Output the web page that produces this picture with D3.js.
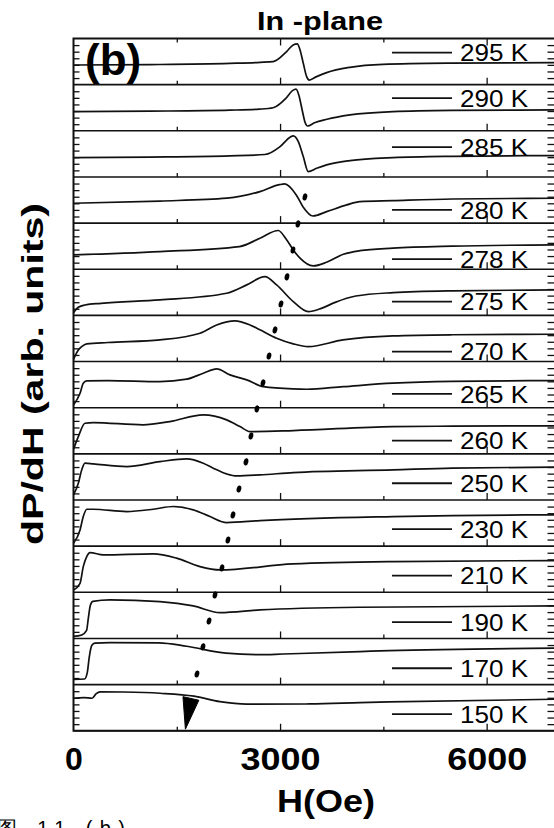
<!DOCTYPE html>
<html>
<head>
<meta charset="utf-8">
<script src="https://cdn.jsdelivr.net/npm/d3@7/dist/d3.min.js"></script>
<style>
  html, body { margin: 0; padding: 0; background: #fff; }
  svg { display: block; }
  text { font-family: "Liberation Sans", Arial, Helvetica, sans-serif; fill: #000; }
</style>
</head>
<body>
<svg id="chart" width="554" height="828"></svg>
<script>
// ---- data -------------------------------------------------------------
// Temperature of each stacked spectrum, top to bottom.
const temperatures = ["295 K", "290 K", "285 K", "280 K", "278 K", "275 K", "270 K",
                      "265 K", "260 K", "250 K", "230 K", "210 K", "190 K", "170 K", "150 K"];

// Field axis ticks (Oe).
const fieldTicks = [0, 3000, 6000];
const fieldMinorTicks = [1500, 4500];

// dP/dH spectra: [H (Oe), signal (arb. units, 0 = bottom of the trace's strip)].
const s295 = [[0, 19.6], [1110, 20.0], [2270, 21.2], [2710, 22.2], [2900, 23.0], [3095, 33.0],
              [3190, 39.6], [3250, 40.6], [3290, 34.6], [3337, 21.3], [3386, 8.0], [3424, 4.6],
              [3530, 8.0], [3676, 12.0], [4015, 17.3], [4494, 20.3], [5467, 21.5], [7000, 22.0]];
const s290 = [[0, 19.1], [1110, 19.6], [2270, 20.6], [2700, 21.6], [2900, 23.0], [3080, 32.0],
              [3180, 40.0], [3231, 41.5], [3275, 35.0], [3320, 21.0], [3365, 8.0], [3400, 4.8],
              [3500, 8.0], [3680, 11.5], [4015, 15.8], [4640, 19.1], [5500, 20.3], [7000, 20.8]];
const s285 = [[0, 19.3], [1110, 19.8], [2270, 21.0], [2780, 22.4], [3000, 30.3], [3145, 39.6],
              [3192, 41.0], [3265, 35.3], [3337, 20.3], [3409, 5.3], [3531, 8.6], [3676, 12.0],
              [4015, 16.3], [4640, 19.3], [5500, 20.6], [7000, 21.3]];
const s280 = [[0, 19.8], [1256, 22.0], [2229, 24.8], [2708, 31.4], [2990, 38.3], [3067, 39.1],
              [3235, 28.1], [3332, 16.4], [3477, 7.1], [3676, 11.4], [3967, 18.1], [4160, 21.4],
              [4640, 22.4], [5500, 24.0], [7000, 24.8]];
const s278 = [[0, 14.3], [1256, 17.6], [2410, 22.6], [2708, 30.9], [2974, 38.6], [3095, 29.3],
              [3192, 19.3], [3290, 11.0], [3480, 3.3], [3676, 7.0], [3920, 15.0], [4160, 18.5],
              [4640, 21.0], [5500, 23.0], [7000, 24.3]];
const s275 = [[0, 2.7], [70, 8.1], [167, 10.4], [400, 12.0], [1256, 15.4], [2224, 22.1],
              [2515, 30.4], [2781, 38.7], [2950, 30.4], [3192, 13.7], [3409, 3.7], [3600, 7.0],
              [3800, 13.0], [4100, 19.3], [4644, 22.7], [5500, 24.5], [7000, 25.4]];
const s270 = [[0, 2.2], [70, 11.5], [119, 14.9], [192, 17.6], [500, 19.0], [1256, 21.6],
              [1837, 28.2], [2079, 36.5], [2345, 40.6], [2563, 36.5], [2708, 31.6], [2950, 23.2],
              [3192, 17.6], [3409, 14.9], [3913, 21.6], [4639, 25.6], [5500, 26.7], [7000, 27.2]];
const s265 = [[0, 2.7], [95, 14.4], [142, 24.4], [192, 26.7], [500, 27.0], [1256, 26.0],
              [1644, 28.4], [1885, 34.4], [2079, 38.7], [2273, 32.7], [2515, 27.7], [2757, 21.0],
              [3192, 18.7], [3386, 18.4], [3918, 21.0], [4639, 24.4], [5500, 26.2], [7000, 27.0]];
const s260 = [[0, 4.5], [70, 17.2], [167, 30.5], [287, 31.2], [1009, 28.9], [1400, 32.2],
              [1885, 38.9], [2224, 33.9], [2418, 27.2], [2563, 22.2], [3192, 23.2], [4639, 27.2],
              [5500, 27.6], [7000, 27.9]];
const s250 = [[0, 5.0], [70, 16.7], [119, 30.0], [167, 36.7], [287, 36.0], [772, 33.3],
              [1256, 38.3], [1644, 41.0], [1885, 36.7], [2030, 31.7], [2224, 26.0], [2370, 24.0],
              [2708, 25.0], [3192, 27.3], [4639, 30.0], [5500, 31.8], [7000, 32.7]];
const s230 = [[0, 2.8], [95, 16.2], [142, 29.5], [192, 36.8], [287, 36.8], [772, 34.5],
              [1159, 36.8], [1449, 39.5], [1740, 36.2], [1982, 29.5], [2224, 23.5], [2708, 25.5],
              [4639, 29.5], [5500, 30.5], [7000, 31.2]];
const s210 = [[0, 2.3], [95, 9.0], [142, 25.6], [192, 35.6], [240, 39.6], [433, 37.3],
              [1159, 38.3], [1498, 34.0], [1837, 25.6], [2127, 22.3], [3187, 28.3], [4639, 30.6],
              [7000, 31.6]];
const s190 = [[0, 2.0], [120, 3.5], [190, 8.0], [215, 20.0], [245, 33.0], [280, 37.0],
              [530, 38.5], [1256, 36.7], [1739, 32.4], [2127, 25.7], [2708, 28.4], [4160, 31.1],
              [7000, 32.4]];
const s170 = [[0, 5.3], [160, 5.6], [200, 12.0], [230, 28.0], [265, 39.0], [310, 41.3],
              [530, 41.9], [1241, 41.6], [1644, 38.2], [2214, 31.3], [2708, 29.8], [3042, 30.5],
              [4160, 32.9], [4581, 33.9], [7000, 36.3]];
const s150 = [[0, 32.4], [150, 33.0], [270, 32.4], [330, 37.0], [385, 38.8], [733, 38.6],
              [1256, 37.4], [1750, 34.5], [2127, 29.0], [2519, 26.6], [3434, 26.7], [4160, 28.0],
              [4581, 28.7], [7000, 31.4]];

const spectra = [s295, s290, s285, s280, s278, s275, s270,
                 s265, s260, s250, s230, s210, s190, s170, s150];

// Resonance-field guide marks: [H (Oe), trace, signal level].
const guideDots = [[3361, "280 K", 26.1], [3260, "278 K", 45.2], [3187, "278 K", 19.2],
                   [3100, "275 K", 38.4], [3013, "275 K", 11.4], [2926, "270 K", 31.5],
                   [2839, "270 K", 5.5], [2752, "265 K", 24.7], [2664, "260 K", 44.8],
                   [2577, "260 K", 17.8], [2505, "250 K", 38.0], [2403, "250 K", 11.0],
                   [2316, "230 K", 31.1], [2243, "230 K", 6.1], [2156, "210 K", 24.3],
                   [2055, "190 K", 43.4], [1968, "190 K", 17.4], [1880, "170 K", 37.6],
                   [1793, "170 K", 10.6]];

// Arrow head at the end of the guide, in the 150 K strip: [H (Oe), level].
const arrowHead = [[1590, 34.0], [1820, 30.4], [1625, 1.6]];

// ---- layout -----------------------------------------------------------
const plot = { left: 73.5, right: 555.5, top: 38.5, bottom: 730.75 };
const stripMax = 46;                                   // signal span of one strip
const legendLevel = [32, 32.5, 29.7, 13.2, 10, 13.8, 9.9, 13.7, 13.2, 16.7, 16.9, 16.7, 16.2, 16.3, 16.5];

const svg = d3.select("#chart");

const x = d3.scaleLinear().domain([0, 7000]).range([plot.left, plot.right]);
const strip = d3.scaleBand().domain(temperatures).range([plot.top, plot.bottom]).padding(0);
const bw = strip.bandwidth();
const yOf = t => d3.scaleLinear().domain([0, stripMax]).range([strip(t) + bw, strip(t)]);

const ink = "#111";

// strips, their axes and traces
temperatures.forEach((t, i) => {
  const y = yOf(t);
  const g = svg.append("g");

  // bottom edge of the strip with inward ticks
  g.append("line")
    .attr("x1", plot.left).attr("x2", plot.right)
    .attr("y1", strip(t) + bw).attr("y2", strip(t) + bw)
    .attr("stroke", ink).attr("stroke-width", 1.6);

  const axMajor = d3.axisBottom(x).tickValues([3000, 6000]).tickSize(-7).tickFormat("");
  const axMinor = d3.axisBottom(x).tickValues(fieldMinorTicks).tickSize(-4).tickFormat("");
  [axMajor, axMinor].forEach(ax => {
    const a = g.append("g").attr("transform", `translate(0,${strip(t) + bw})`).call(ax);
    a.select(".domain").remove();
    a.selectAll("line").attr("stroke", ink).attr("stroke-width", 1.3);
  });

  // y minor ticks on both sides
  const levels = d3.range(1, 7).map(k => k * stripMax / 7);
  const yl = g.append("g").attr("transform", `translate(${plot.left},0)`)
    .call(d3.axisLeft(y).tickValues(levels).tickSize(-6).tickFormat(""));
  const yr = g.append("g").attr("transform", `translate(${plot.right},0)`)
    .call(d3.axisRight(y).tickValues(levels).tickSize(-8).tickFormat(""));
  [yl, yr].forEach(a => {
    a.select(".domain").remove();
    a.selectAll("line").attr("stroke", ink).attr("stroke-width", 1.3);
  });

  // trace
  g.append("path")
    .datum(spectra[i])
    .attr("fill", "none")
    .attr("stroke", ink)
    .attr("stroke-width", 1.7)
    .attr("stroke-linejoin", "round")
    .attr("d", d3.line().x(d => x(d[0])).y(d => y(d[1])).curve(d3.curveMonotoneX));

  // legend entry
  const ly = y(legendLevel[i]);
  g.append("line")
    .attr("x1", 392).attr("x2", 452).attr("y1", ly).attr("y2", ly)
    .attr("stroke", ink).attr("stroke-width", 1.8);
  g.append("text")
    .attr("x", 460).attr("y", ly + 8.8)
    .attr("font-size", 24)
    .attr("textLength", 68).attr("lengthAdjust", "spacingAndGlyphs")
    .text(t);
});

// top frame ticks
const topAx = svg.append("g").attr("transform", `translate(0,${plot.top})`);
topAx.append("g").call(d3.axisTop(x).tickValues([3000, 6000]).tickSize(-7).tickFormat(""));
topAx.append("g").call(d3.axisTop(x).tickValues(fieldMinorTicks).tickSize(-4).tickFormat(""));
topAx.selectAll(".domain").remove();
topAx.selectAll("line").attr("stroke", ink).attr("stroke-width", 1.3);

// outer frame
svg.append("rect")
  .attr("x", plot.left).attr("y", plot.top)
  .attr("width", plot.right - plot.left).attr("height", plot.bottom - plot.top)
  .attr("fill", "none").attr("stroke", ink).attr("stroke-width", 2);

// field tick labels
const xAxis = svg.append("g")
  .attr("transform", `translate(0,${plot.bottom})`)
  .call(d3.axisBottom(x).tickValues(fieldTicks).tickSize(0).tickPadding(16.5).tickFormat(d3.format("d")));
xAxis.select(".domain").remove();
xAxis.selectAll("text")
  .attr("font-family", "Liberation Sans, Arial, sans-serif")
  .attr("font-size", 32).attr("font-weight", "bold").attr("fill", "#000")
  .attr("textLength", d => d ? 80 : null)
  .attr("lengthAdjust", "spacingAndGlyphs");

// guide dots and arrow
svg.append("g").selectAll("ellipse")
  .data(guideDots)
  .join("ellipse")
  .attr("transform", d => `translate(${x(d[0])},${yOf(d[1])(d[2])}) rotate(13)`)
  .attr("rx", 2.3).attr("ry", 3.6)
  .attr("fill", "#000");

const y150 = yOf("150 K");
svg.append("path")
  .datum(arrowHead)
  .attr("fill", "#000").attr("stroke", "#000").attr("stroke-width", 1)
  .attr("d", d3.line().x(d => x(d[0])).y(d => y150(d[1])).curve(d3.curveLinearClosed));

// titles
svg.append("text")
  .attr("x", 320).attr("y", 30)
  .attr("text-anchor", "middle")
  .attr("font-size", 26).attr("font-weight", "bold")
  .attr("textLength", 126).attr("lengthAdjust", "spacingAndGlyphs")
  .text("In -plane");

svg.append("text")
  .attr("x", 85).attr("y", 75)
  .attr("font-size", 44).attr("font-weight", "bold")
  .text("(b)");

svg.append("text")
  .attr("transform", "translate(43,374) rotate(-90)")
  .attr("text-anchor", "middle")
  .attr("font-size", 30).attr("font-weight", "bold")
  .attr("textLength", 342).attr("lengthAdjust", "spacingAndGlyphs")
  .text("dP/dH (arb. units)");

svg.append("text")
  .attr("x", 326).attr("y", 812)
  .attr("text-anchor", "middle")
  .attr("font-size", 32).attr("font-weight", "bold")
  .attr("textLength", 98).attr("lengthAdjust", "spacingAndGlyphs")
  .text("H(Oe)");

svg.append("text")
  .attr("x", -3).attr("y", 835)
  .attr("font-family", "Noto Sans CJK SC, sans-serif")
  .attr("font-size", 20)
  .attr("textLength", 128).attr("lengthAdjust", "spacing")
  .text("图 11 (b)");
</script>
</body>
</html>
